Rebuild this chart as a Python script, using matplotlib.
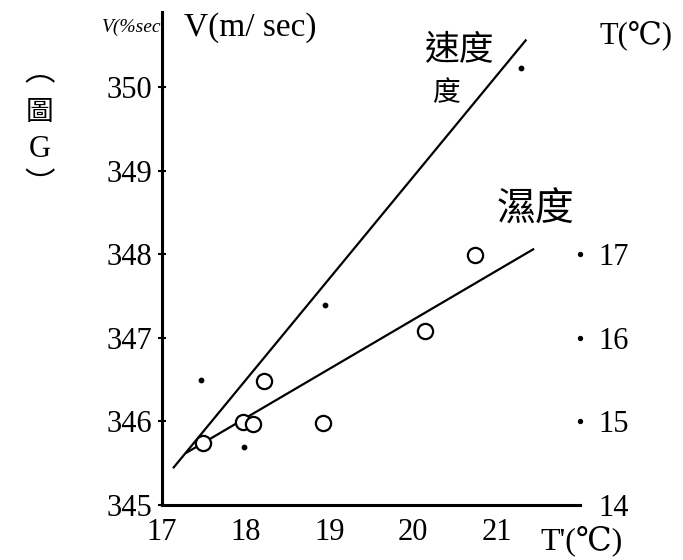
import matplotlib
matplotlib.use("Agg")
import matplotlib.pyplot as plt

# ---- data ----
speed_x = [17.47, 17.98, 18.95, 21.29]
speed_v = [346.50, 345.69, 347.39, 350.23]
temp_x = [17.49, 17.97, 18.09, 18.22, 18.92, 20.15, 20.75]
temp_v = [345.74, 345.99, 345.97, 346.48, 345.98, 347.08, 347.99]
speed_line_x = [17.14, 21.35]
speed_line_v = [345.45, 350.56]
temp_line_x = [17.30, 21.44]
temp_line_v = [345.63, 348.06]
x_ticks = [17, 18, 19, 20, 21]
v_ticks = [345, 346, 347, 348, 349, 350]
t_ticks = [14, 15, 16, 17]

serif = ["Liberation Serif", "DejaVu Serif"]
cjk = ["Noto Sans CJK TC", "DejaVu Sans"]

fig = plt.figure(figsize=(6.83, 5.6), dpi=100)
ax = fig.add_axes([162 / 683, 1 - 505 / 560, (580 - 162) / 683, (505 - 12) / 560])
ax.set_xlim(17, 22)
ax.set_ylim(345, 350.9)

for s in ["top", "right"]:
    ax.spines[s].set_visible(False)
ax.spines["left"].set_linewidth(2.2)
ax.spines["bottom"].set_linewidth(2.2)

ax.plot(speed_line_x, speed_line_v, color="black", lw=1.6)
ax.plot(temp_line_x, temp_line_v, color="black", lw=1.6)
ax.scatter(speed_x, speed_v, s=10, color="black", zorder=3)
ax.scatter(temp_x, temp_v, s=120, facecolors="white", edgecolors="black",
           linewidths=1.6, zorder=3)

ax.set_xticks(x_ticks)
ax.set_xticklabels([str(t) for t in x_ticks], fontsize=22, family=serif)
ax.set_yticks(v_ticks)
ax.set_yticklabels([str(t) for t in v_ticks], fontsize=22, family=serif)
ax.tick_params(axis="y", direction="inout", length=6, width=1.5, pad=4)
ax.tick_params(axis="x", length=0, pad=9)

# right temperature axis
ax2 = ax.twinx()
ax2.set_ylim(14, 19.9)
for s in ax2.spines.values():
    s.set_visible(False)
ax2.set_yticks(t_ticks)
ax2.set_yticklabels([str(t) for t in t_ticks], fontsize=22, family=serif)
ax2.tick_params(axis="y", length=0, pad=13)
ax2.scatter([22] * (len(t_ticks) - 1), t_ticks[1:], s=8, color="black",
            clip_on=False, zorder=3)

# texts
fig.text(184 / 683, 1 - 28 / 560, "V(m/ sec)", fontsize=24, family=serif,
         ha="left", va="center")
fig.text(132 / 683, 1 - 27 / 560, "V(%sec", fontsize=14, family=serif,
         style="italic", ha="center", va="center")
fig.text(636 / 683, 1 - 35 / 560, "T(℃)", fontsize=22, family=serif,
         ha="center", va="center")
fig.text(582 / 683, 1 - 541 / 560, "T'(℃)", fontsize=23, family=serif,
         ha="center", va="center")
fig.text(460 / 683, 1 - 50 / 560, "速度", fontsize=25, family=cjk,
         ha="center", va="center")
fig.text(447 / 683, 1 - 93 / 560, "度", fontsize=20, family=cjk,
         style="italic", ha="center", va="center")
fig.text(535 / 683, 1 - 210 / 560, "濕度", fontsize=28, family=cjk,
         ha="center", va="center")

fig.text(40 / 683, 1 - 72 / 560, "︵", fontsize=22, family=cjk, ha="center", va="center")
fig.text(40 / 683, 1 - 112 / 560, "圖", fontsize=20, family=cjk, ha="center", va="center")
fig.text(40 / 683, 1 - 150 / 560, "G", fontsize=22, family=serif, ha="center", va="center")
fig.text(40 / 683, 1 - 185 / 560, "︶", fontsize=22, family=cjk, ha="center", va="center")

fig.savefig("out.png", dpi=100, facecolor="white")
